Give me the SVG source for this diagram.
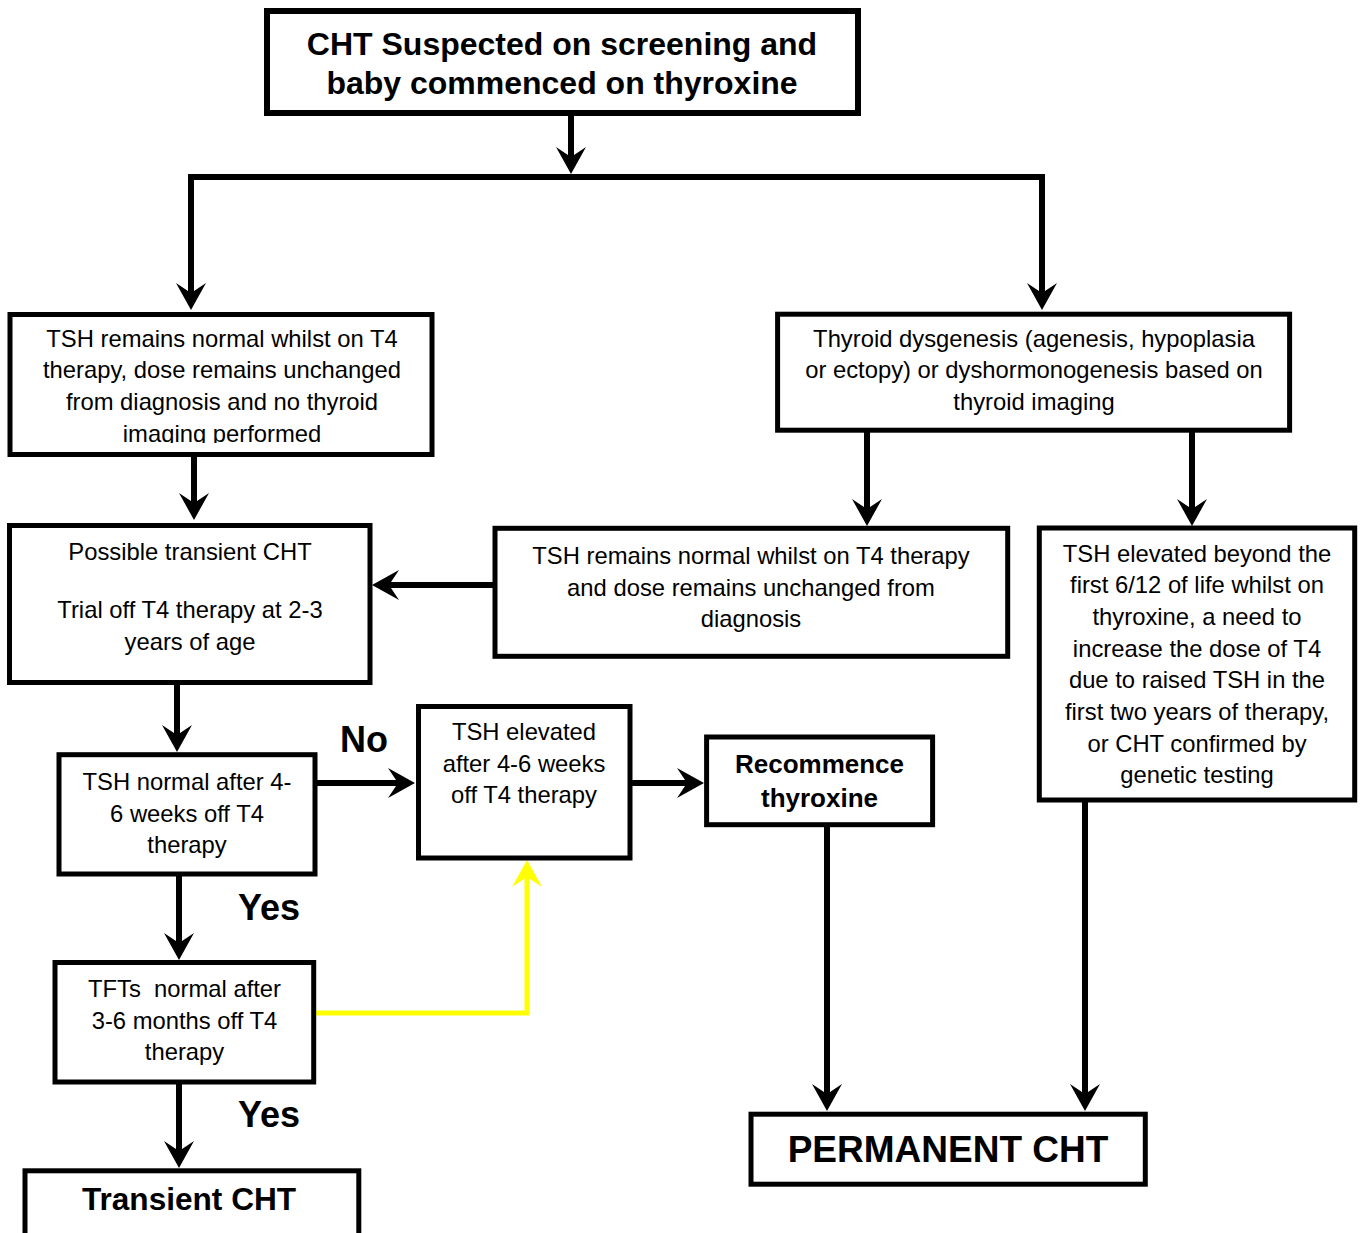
<svg xmlns="http://www.w3.org/2000/svg" width="1364" height="1233" viewBox="0 0 1364 1233">
<style>
.box{fill:#fff;stroke:#000;stroke-width:5}
.t{font-family:"Liberation Sans",Arial,sans-serif;font-size:23.8px;fill:#000;text-anchor:middle}
.b{font-family:"Liberation Sans",Arial,sans-serif;font-weight:bold;fill:#000;text-anchor:middle}
.lbl{font-family:"Liberation Sans",Arial,sans-serif;font-weight:bold;font-size:36px;fill:#000}
.c{fill:none;stroke:#000;stroke-width:6}
.cy{fill:none;stroke:#ffff00;stroke-width:5}
</style>
<defs>
<marker id="ah" markerUnits="userSpaceOnUse" markerWidth="40" markerHeight="40" viewBox="-20 -20 40 40" refX="0" refY="0" orient="auto" overflow="visible"><path d="M12,0 L-15,-15 L-5,0 L-15,15 Z" fill="#000"/></marker>
<marker id="ahy" markerUnits="userSpaceOnUse" markerWidth="40" markerHeight="40" viewBox="-20 -20 40 40" refX="0" refY="0" orient="auto" overflow="visible"><path d="M12,0 L-15,-15 L-5,0 L-15,15 Z" fill="#ffff00"/></marker>
<clipPath id="clip1"><rect x="12" y="317" width="418" height="126"/></clipPath>
</defs>
<rect width="1364" height="1233" fill="#fff"/>
<g id="connectors">
<path class="c" d="M188,177 H1045"/>
<path class="c" d="M571,116 V162" marker-end="url(#ah)"/>
<path class="c" d="M191,174 V298" marker-end="url(#ah)"/>
<path class="c" d="M1042,174 V298" marker-end="url(#ah)"/>
<path class="c" d="M194,457 V508" marker-end="url(#ah)"/>
<path class="c" d="M177,685 V740" marker-end="url(#ah)"/>
<path class="c" d="M315,783 H403" marker-end="url(#ah)"/>
<path class="c" d="M630,783 H692" marker-end="url(#ah)"/>
<path class="c" d="M495,585 H384" marker-end="url(#ah)"/>
<path class="c" d="M867,432 V514" marker-end="url(#ah)"/>
<path class="c" d="M1192,432 V514" marker-end="url(#ah)"/>
<path class="c" d="M179,876 V948" marker-end="url(#ah)"/>
<path class="c" d="M179,1084 V1156" marker-end="url(#ah)"/>
<path class="c" d="M827,826 V1099" marker-end="url(#ah)"/>
<path class="c" d="M1085,802 V1099" marker-end="url(#ah)"/>
<path class="cy" d="M313,1013 H527 V872" marker-end="url(#ahy)"/>
<text class="lbl" x="340" y="752">No</text>
<text class="lbl" x="238" y="920">Yes</text>
<text class="lbl" x="238" y="1127">Yes</text>
</g>
<g id="n-start">
<rect class="box" x="267" y="11" width="591" height="102" style="stroke-width:6"/>
<text class="b" style="font-size:32px" x="562" y="55">CHT Suspected on screening and</text>
<text class="b" style="font-size:32px" x="562" y="94">baby commenced on thyroxine</text>
</g>
<g id="n-normal-noimaging">
<rect class="box" x="10" y="314.5" width="422" height="140"/>
<g clip-path="url(#clip1)">
<text class="t" x="222" y="346.7">TSH remains normal whilst on T4</text>
<text class="t" x="222" y="378.3">therapy, dose remains unchanged</text>
<text class="t" x="222" y="410">from diagnosis and no thyroid</text>
<text class="t" x="222" y="441.7">imaging performed</text>
</g>
</g>
<g id="n-dysgenesis">
<rect class="box" x="777.6" y="314.2" width="512" height="116"/>
<text class="t" x="1034" y="346.7">Thyroid dysgenesis (agenesis, hypoplasia</text>
<text class="t" x="1034" y="378.3">or ectopy) or dyshormonogenesis based on</text>
<text class="t" x="1034" y="410">thyroid imaging</text>
</g>
<g id="n-possible">
<rect class="box" x="9.5" y="525.5" width="360.5" height="157"/>
<text class="t" x="190" y="560">Possible transient CHT</text>
<text class="t" x="190" y="618.3">Trial off T4 therapy at 2-3</text>
<text class="t" x="190" y="650">years of age</text>
</g>
<g id="n-normal-unchanged">
<rect class="box" x="495" y="528.3" width="512.7" height="128"/>
<text class="t" x="751" y="564">TSH remains normal whilst on T4 therapy</text>
<text class="t" x="751" y="595.5">and dose remains unchanged from</text>
<text class="t" x="751" y="627">diagnosis</text>
</g>
<g id="n-elevated-beyond">
<rect class="box" x="1039.3" y="528" width="315.4" height="272"/>
<text class="t" x="1197" y="561.7">TSH elevated beyond the</text>
<text class="t" x="1197" y="593.4">first 6/12 of life whilst on</text>
<text class="t" x="1197" y="625">thyroxine, a need to</text>
<text class="t" x="1197" y="656.7">increase the dose of T4</text>
<text class="t" x="1197" y="688.4">due to raised TSH in the</text>
<text class="t" x="1197" y="720">first two years of therapy,</text>
<text class="t" x="1197" y="751.7">or CHT confirmed by</text>
<text class="t" x="1197" y="783.4">genetic testing</text>
</g>
<g id="n-tsh-normal">
<rect class="box" x="59" y="754.7" width="256" height="119.3"/>
<text class="t" x="187" y="790">TSH normal after 4-</text>
<text class="t" x="187" y="821.7">6 weeks off T4</text>
<text class="t" x="187" y="853">therapy</text>
</g>
<g id="n-tsh-elevated">
<rect class="box" x="418.5" y="706.5" width="211.5" height="151.5"/>
<text class="t" x="524" y="740">TSH elevated</text>
<text class="t" x="524" y="771.7">after 4-6 weeks</text>
<text class="t" x="524" y="803">off T4 therapy</text>
</g>
<g id="n-recommence">
<rect class="box" x="706.6" y="737" width="226" height="87.7"/>
<text class="b" style="font-size:26px" x="819.5" y="772.7">Recommence</text>
<text class="b" style="font-size:26px" x="819.5" y="807">thyroxine</text>
</g>
<g id="n-tfts">
<rect class="box" x="55" y="962.5" width="258.7" height="119.5"/>
<text class="t" x="184.5" y="997" xml:space="preserve">TFTs  normal after</text>
<text class="t" x="184.5" y="1029">3-6 months off T4</text>
<text class="t" x="184.5" y="1060">therapy</text>
</g>
<g id="n-transient">
<rect class="box" x="25" y="1170.8" width="333.8" height="70"/>
<text class="b" style="font-size:31.6px" x="189" y="1210">Transient CHT</text>
</g>
<g id="n-permanent">
<rect class="box" x="751" y="1114.2" width="394.3" height="70"/>
<text class="b" style="font-size:37px" x="948" y="1161.7">PERMANENT CHT</text>
</g>
</svg>
